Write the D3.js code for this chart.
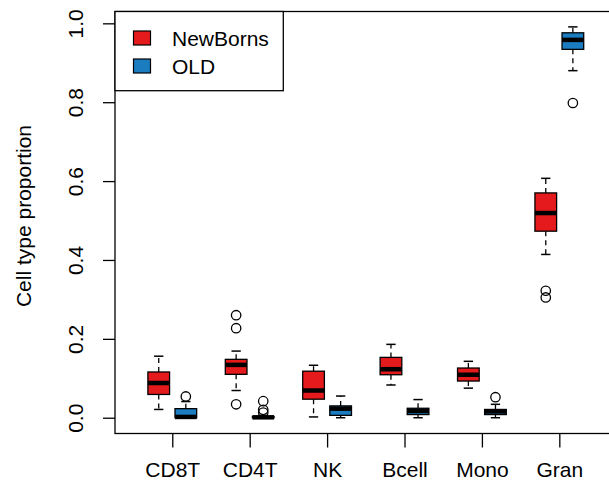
<!DOCTYPE html>
<html><head><meta charset="utf-8">
<script src="https://cdn.jsdelivr.net/npm/d3@7"></script>
<style>html,body{margin:0;padding:0;background:#fff;}svg{display:block;font-family:"Liberation Sans",Arial,Helvetica,sans-serif;}</style>
</head><body>
<script>
const categories = ["CD8T","CD4T","NK","Bcell","Mono","Gran"];
const seriesNames = ["NewBorns","OLD"];
const seriesColors = ["#E41A1C","#1B7CC0"];
const yTicks = [0.0,0.2,0.4,0.6,0.8,1.0];
// [lower whisker, Q1, median, Q3, upper whisker]
const newbornsStats = [
  [0.021,0.059,0.088,0.116,0.156],
  [0.069,0.110,0.134,0.148,0.169],
  [0.002,0.047,0.069,0.118,0.133],
  [0.083,0.109,0.123,0.153,0.186],
  [0.075,0.093,0.109,0.126,0.143],
  [0.414,0.473,0.519,0.570,0.607]
];
const newbornsOutliers = [[],[0.260,0.227,0.034],[],[],[],[0.322,0.305]];
const oldStats = [
  [0.000,0.000,0.002,0.023,0.041],
  [0.000,0.000,0.001,0.003,0.006],
  [0.000,0.006,0.023,0.030,0.055],
  [0.000,0.008,0.017,0.024,0.046],
  [0.000,0.008,0.016,0.021,0.034],
  [0.880,0.934,0.958,0.976,0.991]
];
const oldOutliers = [[0.054],[0.042,0.020,0.013],[],[],[0.052],[0.798]];

const W = 609, H = 487;
const svg = d3.select("body").append("svg").attr("width", W).attr("height", H);

const x = d3.scaleLinear().domain([0.26, 6.74]).range([115, 616.6]);
const y = d3.scaleLinear().domain([-0.04, 1.03]).range([433.5, 11.5]);

// frame
svg.append("rect").attr("x", x(0.26)).attr("y", y(1.03)).attr("width", x(6.74)-x(0.26)).attr("height", y(-0.04)-y(1.03))
  .attr("fill","none").attr("stroke","#000").attr("stroke-width",1.3);

// y axis
const yAxis = d3.axisLeft(y).tickValues(yTicks).tickFormat(d3.format(".1f")).tickSize(12).tickPadding(0);
const ya = svg.append("g").attr("transform", `translate(${x(0.26)},0)`).call(yAxis);
ya.select(".domain").remove();
ya.selectAll(".tick line").attr("stroke","#000").attr("stroke-width",1.3);
ya.selectAll(".tick text").attr("transform","rotate(-90)").attr("x",0).attr("y",-32)
  .attr("text-anchor","middle").attr("dy",0).style("font-size","21px").attr("fill","#000");

// x axis
const xAxis = d3.axisBottom(x).tickValues(d3.range(1,7)).tickFormat((d)=>categories[d-1]).tickSize(14).tickPadding(0);
const xa = svg.append("g").attr("transform", `translate(0,${y(-0.04)})`).call(xAxis);
xa.select(".domain").remove();
xa.selectAll(".tick line").attr("stroke","#000").attr("stroke-width",1.3);
xa.selectAll(".tick text").attr("y",43).attr("dy",0).style("font-size","21px").attr("fill","#000");

// y label
svg.append("text").attr("transform","translate(31,216) rotate(-90)").attr("text-anchor","middle")
  .style("font-size","21px").text("Cell type proportion");

const offsets = [-0.175, 0.175];
const bw = 0.28, cw = 0.12;
const allStats = [newbornsStats, oldStats];
const allOut = [newbornsOutliers, oldOutliers];

allStats.forEach((stats, s) => {
  const g = svg.append("g");
  stats.forEach((st, i) => {
    const c = i + 1 + offsets[s];
    const [lo, q1, med, q3, hi] = st;
    // whiskers
    g.append("line").attr("x1",x(c)).attr("x2",x(c)).attr("y1",y(q3)).attr("y2",y(hi))
      .attr("stroke","#000").attr("stroke-width",1.3).attr("stroke-dasharray","5,4");
    g.append("line").attr("x1",x(c)).attr("x2",x(c)).attr("y1",y(q1)).attr("y2",y(lo))
      .attr("stroke","#000").attr("stroke-width",1.3).attr("stroke-dasharray","5,4");
    [lo, hi].forEach(v => g.append("line").attr("x1",x(c-cw/2)).attr("x2",x(c+cw/2)).attr("y1",y(v)).attr("y2",y(v))
      .attr("stroke","#000").attr("stroke-width",1.5));
    // box
    g.append("rect").attr("x",x(c-bw/2)).attr("width",x(c+bw/2)-x(c-bw/2))
      .attr("y",y(q3)).attr("height",Math.max(0.5,y(q1)-y(q3)))
      .attr("fill",seriesColors[s]).attr("stroke","#000").attr("stroke-width",1.3);
    // median
    g.append("line").attr("x1",x(c-bw/2)).attr("x2",x(c+bw/2)).attr("y1",y(med)).attr("y2",y(med))
      .attr("stroke","#000").attr("stroke-width",4.5);
    // outliers
    allOut[s][i].forEach(v => g.append("circle").attr("cx",x(c)).attr("cy",y(v)).attr("r",4.7)
      .attr("fill","none").attr("stroke","#000").attr("stroke-width",1.3));
  });
});

// legend
const lg = svg.append("g");
lg.append("rect").attr("x",115).attr("y",11.5).attr("width",168.3).attr("height",79.2)
  .attr("fill","#fff").attr("stroke","#000").attr("stroke-width",1.3);
seriesNames.forEach((n, i) => {
  lg.append("rect").attr("x",133.5).attr("y",31 + i*28).attr("width",17).attr("height",14)
    .attr("fill",seriesColors[i]).attr("stroke","#000").attr("stroke-width",1.2);
  lg.append("text").attr("x",172).attr("y",45.5 + i*28).style("font-size","21px").text(n);
});
</script>
</body></html>
